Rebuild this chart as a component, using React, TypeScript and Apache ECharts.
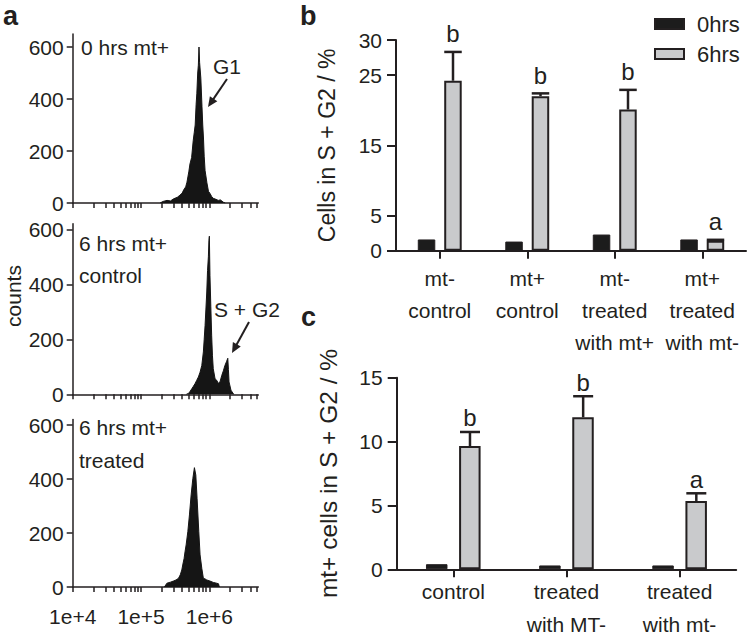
import React, { useEffect, useRef } from "react";
import * as echarts from "echarts";

const INK = "#231f20";
const HIST = "#151515";
const BAR_BLACK = "#1c1c1c";
const BAR_GREY = "#c9cacc";
const FONT = "'Liberation Sans', Arial, Helvetica, sans-serif";

// ---------- panel a : DNA-content histograms ----------
const fluorTicks = [1e4, 2e4, 3e4, 4e4, 5e4, 6e4, 7e4, 8e4, 9e4, 1e5, 2e5, 3e5, 4e5, 5e5, 6e5, 7e5, 8e5, 9e5, 1e6, 2e6, 3e6, 4e6, 5e6];
const fluorLabels = [1e4, 1e5, 1e6];
const countTicks = [0, 200, 400, 600];

const fluor0h = [1.9e5, 2.1e5, 2.4e5, 2.7e5, 3.0e5, 3.4e5, 3.7e5, 4.0e5, 4.2e5, 4.5e5, 4.7e5, 5.0e5, 5.2e5, 5.5e5, 5.8e5, 6.0e5, 6.2e5, 6.4e5, 6.55e5, 6.75e5, 6.9e5, 7.05e5, 7.2e5, 7.5e5, 7.8e5, 8.0e5, 8.2e5, 8.4e5, 8.65e5, 9.2e5, 9.7e5, 1.02e6, 1.08e6, 1.14e6, 1.25e6, 1.35e6, 1.45e6, 1.6e6, 1.7e6];
const counts0h = [0, 6, 10, 8, 16, 22, 30, 38, 50, 62, 80, 120, 150, 175, 240, 270, 300, 380, 420, 500, 530, 600, 540, 480, 370, 300, 250, 180, 125, 78, 45, 37, 25, 18, 14, 10, 12, 3, 0];

const fluor6hControl = [4.6e5, 4.94e5, 5.2e5, 5.53e5, 5.8e5, 6.18e5, 6.5e5, 6.91e5, 7.3e5, 7.75e5, 8.17e5, 8.4e5, 8.65e5, 8.9e5, 9.16e5, 9.4e5, 9.67e5, 9.85e5, 1.0e6, 1.02e6, 1.05e6, 1.08e6, 1.11e6, 1.14e6, 1.21e6, 1.28e6, 1.35e6, 1.43e6, 1.52e6, 1.6e6, 1.69e6, 1.79e6, 1.86e6, 1.9e6, 1.94e6, 2.07e6, 2.24e6, 2.3e6];
const counts6hControl = [0, 3, 10, 20, 28, 39, 50, 63, 80, 105, 154, 200, 250, 310, 372, 450, 500, 560, 575, 433, 320, 215, 140, 93, 57, 51, 40, 45, 69, 85, 105, 120, 131, 90, 45, 15, 2, 0];

const fluor6hTreated = [2.2e5, 2.39e5, 2.7e5, 2.98e5, 3.25e5, 3.53e5, 3.75e5, 3.95e5, 4.1e5, 4.27e5, 4.4e5, 4.57e5, 4.84e5, 5.11e5, 5.41e5, 5.73e5, 6.04e5, 6.33e5, 6.61e5, 7.0e5, 7.31e5, 7.75e5, 8.17e5, 8.65e5, 9.16e5, 1.02e6, 1.14e6, 1.28e6, 1.36e6, 1.4e6];
const counts6hTreated = [0, 14, 18, 22, 26, 32, 45, 63, 85, 106, 130, 156, 205, 267, 341, 402, 442, 415, 328, 205, 119, 69, 32, 30, 26, 22, 17, 14, 12, 0];

// ---------- panel b ----------
const bCategories = ["mt-\ncontrol", "mt+\ncontrol", "mt-\ntreated\nwith mt+", "mt+\ntreated\nwith mt-"];
const b0hrs = [1.6, 1.3, 2.3, 1.6];
const b6hrs = [24.2, 22.0, 20.1, 1.4];
const b6hrsErr = [4.1, 0.4, 2.8, 0.15];
const bLetters = ["b", "b", "b", "a"];
const bTicks = [0, 5, 15, 25, 30];

// ---------- panel c ----------
const cCategories = ["control", "treated\nwith MT-", "treated\nwith mt-"];
const c0hrs = [0.4, 0.3, 0.3];
const c6hrs = [9.65, 11.9, 5.35];
const c6hrsErr = [1.1, 1.65, 0.6];
const cLetters = ["b", "b", "a"];
const cTicks = [0, 5, 10, 15];

const seriesNames = ["0hrs", "6hrs"];

function arrow(x1: number, y1: number, x2: number, y2: number) {
  const dx = x2 - x1, dy = y2 - y1;
  const L = Math.sqrt(dx * dx + dy * dy);
  const ux = dx / L, uy = dy / L;
  const hl = 10, hw = 4.5;
  const bx = x2 - ux * hl, by = y2 - uy * hl;
  return [
    { type: "line", shape: { x1, y1, x2: bx + ux * 2, y2: by + uy * 2 }, style: { stroke: INK, lineWidth: 2 } },
    {
      type: "polygon",
      shape: { points: [[x2, y2], [bx - uy * hw, by + ux * hw], [bx + uy * hw, by - ux * hw]] },
      style: { fill: INK },
    },
  ];
}

function txt(text: string, x: number, y: number, size = 21, weight = "normal") {
  return {
    type: "text",
    x,
    y,
    style: { text, fill: INK, fontFamily: FONT, fontSize: size, fontWeight: weight, align: "left", verticalAlign: "middle" },
  };
}

export default function App() {
  const ref = useRef<HTMLDivElement>(null);

  useEffect(() => {
    document.body.style.margin = "0";
    if (!ref.current) return;
    const chart = echarts.init(ref.current, null, { renderer: "svg" });

    const histGrids = [
      { left: 72.7, top: 34, width: 185.6, height: 169, max: 650 },
      { left: 72.7, top: 223.8, width: 185.6, height: 170.5, max: 620 },
      { left: 72.7, top: 419.6, width: 185.6, height: 167.4, max: 620 },
    ];
    const histData = [
      fluor0h.map((x, i) => [x, counts0h[i]]),
      fluor6hControl.map((x, i) => [x, counts6hControl[i]]),
      fluor6hTreated.map((x, i) => [x, counts6hTreated[i]]),
    ];

    const grids: any[] = histGrids.map((g) => ({ left: g.left, top: g.top, width: g.width, height: g.height, outerBoundsMode: "none", containLabel: false }));
    grids.push({ left: 396, top: 40, width: 350, height: 210.7, outerBoundsMode: "none", containLabel: false });
    grids.push({ left: 396.7, top: 377.7, width: 339.5, height: 191.6, outerBoundsMode: "none", containLabel: false });

    const xAxes: any[] = histGrids.map((g, k) => ({
      type: "log",
      logBase: 10,
      gridIndex: k,
      min: 1e4,
      max: 5.2e6,
      axisLine: { show: true, lineStyle: { color: INK, width: 1.5 } },
      axisTick: { show: true, customValues: fluorTicks, length: 5, lineStyle: { color: INK, width: 1.5 } },
      axisLabel: {
        show: k === 2,
        customValues: fluorLabels,
        formatter: (v: number) => "1e+" + Math.round(Math.log10(v)),
        color: INK,
        fontFamily: FONT,
        fontSize: 21,
        margin: 19,
      },
      splitLine: { show: false },
      minorTick: { show: false },
    }));
    const yAxes: any[] = histGrids.map((g, k) => ({
      type: "value",
      gridIndex: k,
      min: 0,
      max: g.max,
      axisLine: { show: true, lineStyle: { color: INK, width: 1.5 } },
      axisTick: { show: true, customValues: countTicks, length: 6, lineStyle: { color: INK, width: 1.5 } },
      axisLabel: { customValues: countTicks, color: INK, fontFamily: FONT, fontSize: 21, margin: 9 },
      splitLine: { show: false },
    }));

    const catX = (grid: number, cats: string[], margin: number, lh: number) => ({
      type: "category",
      gridIndex: grid,
      data: cats,
      axisLine: { show: true, lineStyle: { color: INK, width: 2 } },
      axisTick: { show: true, alignWithLabel: true, length: 8, lineStyle: { color: INK, width: 2 } },
      axisLabel: { color: INK, fontFamily: FONT, fontSize: 21, lineHeight: lh, margin, interval: 0 },
      splitLine: { show: false },
    });
    const valY = (grid: number, max: number, ticks: number[], name: string, gap: number, size: number) => ({
      type: "value",
      gridIndex: grid,
      min: 0,
      max,
      name,
      nameLocation: "middle",
      nameRotate: 90,
      nameGap: gap,
      nameTextStyle: { color: INK, fontFamily: FONT, fontSize: size },
      axisLine: { show: true, lineStyle: { color: INK, width: 2 } },
      axisTick: { show: true, customValues: ticks, length: 9, lineStyle: { color: INK, width: 2 } },
      axisLabel: { customValues: ticks, color: INK, fontFamily: FONT, fontSize: 21, margin: 14 },
      splitLine: { show: false },
    });
    xAxes.push(catX(3, bCategories, 12, 32));
    xAxes.push(catX(4, cCategories, 6, 33));
    yAxes.push(valY(3, 30, bTicks, "Cells in S + G2 / %", 58, 23));
    yAxes.push(valY(4, 15, cTicks, "mt+ cells in S + G2 / %", 56, 24.5));

    const series: any[] = histData.map((d, k) => ({
      type: "line",
      xAxisIndex: k,
      yAxisIndex: k,
      data: d,
      symbol: "none",
      silent: true,
      lineStyle: { color: HIST, width: 1 },
      areaStyle: { color: HIST, opacity: 1 },
    }));

    const barPair = (axis: number, v0: number[], v6: number[], width: number, gap: string) => [
      {
        type: "bar",
        name: seriesNames[0],
        xAxisIndex: axis,
        yAxisIndex: axis,
        data: v0,
        barWidth: width,
        barGap: gap,
        itemStyle: { color: BAR_BLACK, borderColor: INK, borderWidth: 1 },
      },
      {
        type: "bar",
        name: seriesNames[1],
        xAxisIndex: axis,
        yAxisIndex: axis,
        data: v6,
        barWidth: width,
        barGap: gap,
        itemStyle: { color: BAR_GREY, borderColor: INK, borderWidth: 2 },
      },
    ];

    const errSeries = (axis: number, vals: number[], errs: number[], letters: string[], offset: number, capW: number, letterGap: number) => ({
      type: "custom",
      xAxisIndex: axis,
      yAxisIndex: axis,
      z: 10,
      silent: true,
      data: vals.map((v, i) => [i, v, errs[i]]),
      renderItem: (params: any, api: any) => {
        const i = api.value(0);
        const v = api.value(1);
        const e = api.value(2);
        const base = api.coord([i, v]);
        const top = api.coord([i, v + e]);
        const x = base[0] + offset;
        return {
          type: "group",
          children: [
            { type: "line", shape: { x1: x, y1: base[1], x2: x, y2: top[1] }, style: { stroke: INK, lineWidth: 2.5 } },
            { type: "line", shape: { x1: x - capW / 2, y1: top[1], x2: x + capW / 2, y2: top[1] }, style: { stroke: INK, lineWidth: 2.5 } },
            {
              type: "text",
              x,
              y: top[1] - letterGap,
              style: { text: letters[i], fill: INK, fontFamily: FONT, fontSize: 24, align: "center", verticalAlign: "bottom" },
            },
          ],
        };
      },
    });

    series.push(...barPair(3, b0hrs, b6hrs, 17.5, "51%"));
    series.push(errSeries(3, b6hrs, b6hrsErr, bLetters, 13.25, 17.5, 6));
    series.push(...barPair(4, c0hrs, c6hrs, 21.5, "54%"));
    series.push(errSeries(4, c6hrs, c6hrsErr, cLetters, 16.7, 20, 2));

    const graphic: any[] = [
      txt("a", 3, 16, 27, "bold"),
      txt("b", 300, 16, 27, "bold"),
      txt("c", 301, 317, 27, "bold"),
      txt("0 hrs mt+", 81, 47),
      txt("G1", 213, 66),
      ...arrow(227, 79, 208, 107),
      txt("6 hrs mt+", 79, 243),
      txt("control", 79, 275),
      txt("S + G2", 214, 309),
      ...arrow(249, 322, 232, 353),
      txt("6 hrs mt+", 79, 427),
      txt("treated", 79, 460),
      {
        type: "text",
        x: 13,
        y: 296,
        rotation: Math.PI / 2,
        style: { text: "counts", fill: INK, fontFamily: FONT, fontSize: 21, align: "center", verticalAlign: "middle" },
      },
    ];

    chart.setOption({
      animation: false,
      backgroundColor: "#ffffff",
      textStyle: { fontFamily: FONT, color: INK },
      legend: {
        data: seriesNames,
        orient: "vertical",
        left: 649,
        top: 8,
        itemWidth: 29,
        itemHeight: 10,
        itemGap: 8,
        icon: "rect",
        selectedMode: false,
        textStyle: { color: INK, fontFamily: FONT, fontSize: 22, padding: [0, 0, 0, 8] },
      },
      grid: grids,
      xAxis: xAxes,
      yAxis: yAxes,
      series,
      graphic,
    });

    return () => chart.dispose();
  }, []);

  return <div ref={ref} style={{ width: 748, height: 636 }} />;
}
